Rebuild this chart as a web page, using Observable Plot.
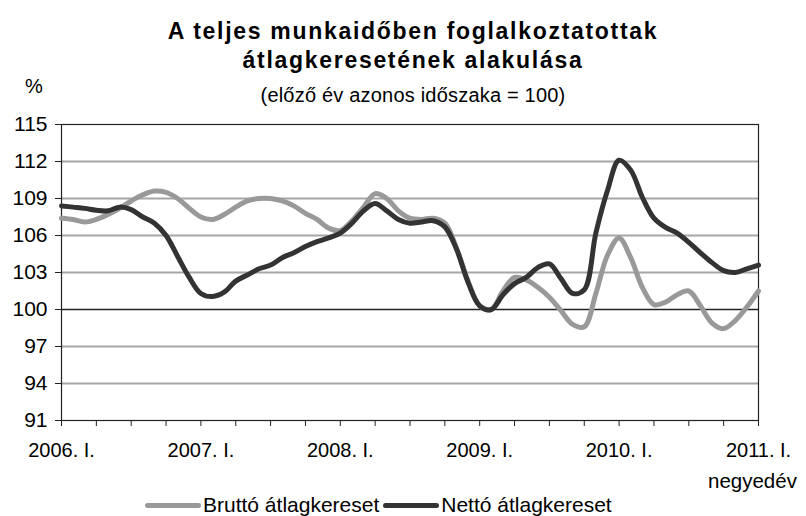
<!DOCTYPE html>
<html>
<head>
<meta charset="utf-8">
<script src="https://cdn.jsdelivr.net/npm/d3@7"></script>
<script src="https://cdn.jsdelivr.net/npm/@observablehq/plot@0.6"></script>
<style>
  body { margin: 0; background: #fff; font-family: "Liberation Sans", Arial, sans-serif; }
  #wrap { position: relative; width: 806px; height: 516px; overflow: hidden; }
  .t { position: absolute; white-space: nowrap; color: #000; }
  .title { font-weight: bold; font-size: 23px; letter-spacing: 1.7px; left: 0; width: 826px; text-align: center; }
  .sub { font-size: 20px; letter-spacing: 0.2px; left: 0; width: 826px; text-align: center; }
  .leg { position: absolute; top: 493px; left: 145px; display: flex; align-items: center; font-size: 21px; }
  .sw { display: inline-block; width: 56px; height: 5px; border-radius: 3px; margin-right: 2px; }
</style>
</head>
<body>
<div id="wrap">
  <div class="t title" style="top:18px;">A teljes munkaidőben foglalkoztatottak</div>
  <div class="t title" style="top:47px;">átlagkeresetének alakulása</div>
  <div class="t sub" style="top:84px;">(előző év azonos időszaka = 100)</div>
  <div class="t" style="top:75px; left:25px; font-size:20px;">%</div>
  <div class="t" style="top:469px; left:708px; font-size:20.5px;">negyedév</div>
  <div class="leg">
    <span class="sw" style="background:#999999"></span><span>Bruttó átlagkereset</span>
    <span class="sw" style="background:#333333; margin-left:4px;"></span><span>Nettó átlagkereset</span>
  </div>
  <div id="chart"></div>
</div>
<script>
// monthly index 0 = 2006 Jan ... 60 = 2011 Jan
const yearLabels = ["2006. I.", "2007. I.", "2008. I.", "2009. I.", "2010. I.", "2011. I."];
const yTicks = [91, 94, 97, 100, 103, 106, 109, 112, 115];
const seriesNames = ["Bruttó átlagkereset", "Nettó átlagkereset"];

const brutto = [
  107.4, 107.3, 107.1, 107.3, 107.7, 108.2, 108.8, 109.3, 109.6, 109.5,
  109.0, 108.2, 107.5, 107.3, 107.7, 108.3, 108.8, 109.0, 109.0, 108.8,
  108.4, 107.8, 107.3, 106.6, 106.4, 107.2, 108.3, 109.4, 109.0, 108.0,
  107.4, 107.3, 107.4, 107.0, 105.0, 102.3, 100.3, 100.0, 101.5, 102.6,
  102.4, 101.8, 101.0, 99.9, 98.8, 98.6, 101.3, 104.4, 105.8, 104.2,
  101.8, 100.4, 100.6, 101.2, 101.5, 100.3, 98.9, 98.45, 99.1, 100.2,
  101.5
];
const netto = [
  108.4, 108.3, 108.2, 108.05, 108.0, 108.3, 108.1, 107.5, 107.0, 106.0,
  104.3, 102.6, 101.3, 101.05, 101.4, 102.3, 102.8, 103.3, 103.6, 104.2,
  104.6, 105.1, 105.5, 105.8, 106.2, 107.0, 108.0, 108.6, 108.0, 107.3,
  107.0, 107.1, 107.2, 106.7, 104.9, 102.2, 100.3, 100.0, 101.2, 102.1,
  102.6, 103.4, 103.7, 102.5, 101.3, 101.6, 106.2, 109.65, 112.1, 111.3,
  109.1, 107.4, 106.65, 106.2, 105.45, 104.6, 103.8, 103.15, 103.0, 103.3,
  103.6
];

const data = [
  ...brutto.map((v, i) => ({i, v, s: seriesNames[0]})),
  ...netto.map((v, i) => ({i, v, s: seriesNames[1]}))
];
const xTicks = d3.range(0, 61, 3);
const gridVals = yTicks.filter(d => d !== 100 && d !== 91 && d !== 115);

const chart = Plot.plot({
  width: 806,
  height: 516,
  marginTop: 124,
  marginBottom: 96,
  marginLeft: 61,
  marginRight: 48,
  style: { fontFamily: "'Liberation Sans', Arial, sans-serif", fontSize: "20px", color: "#000", background: "transparent", overflow: "visible" },
  x: { domain: [0, 60] },
  y: { domain: [91, 115] },
  color: { domain: seriesNames, range: ["#999999", "#333333"] },
  marks: [
    Plot.ruleY(gridVals, { stroke: "#a6a6a6", strokeWidth: 2 }),
    Plot.ruleY([100], { stroke: "#222", strokeWidth: 1.5 }),
    Plot.frame({ stroke: "#222", strokeWidth: 1.2 }),
    Plot.axisY({ ticks: yTicks, tickSize: 6, tickPadding: 8, label: null, stroke: "#222", fontSize: 21 }),
    Plot.axisX({ ticks: xTicks, tickSize: 6, tickPadding: 16, label: null, stroke: "#222", fontSize: 20,
      tickFormat: d => d % 12 === 0 ? yearLabels[d / 12] : "" }),
    Plot.line(data, { x: "i", y: "v", z: "s", stroke: "s", strokeWidth: 5, curve: "catmull-rom" })
  ]
});
document.getElementById("chart").appendChild(chart);
</script>
</body>
</html>
